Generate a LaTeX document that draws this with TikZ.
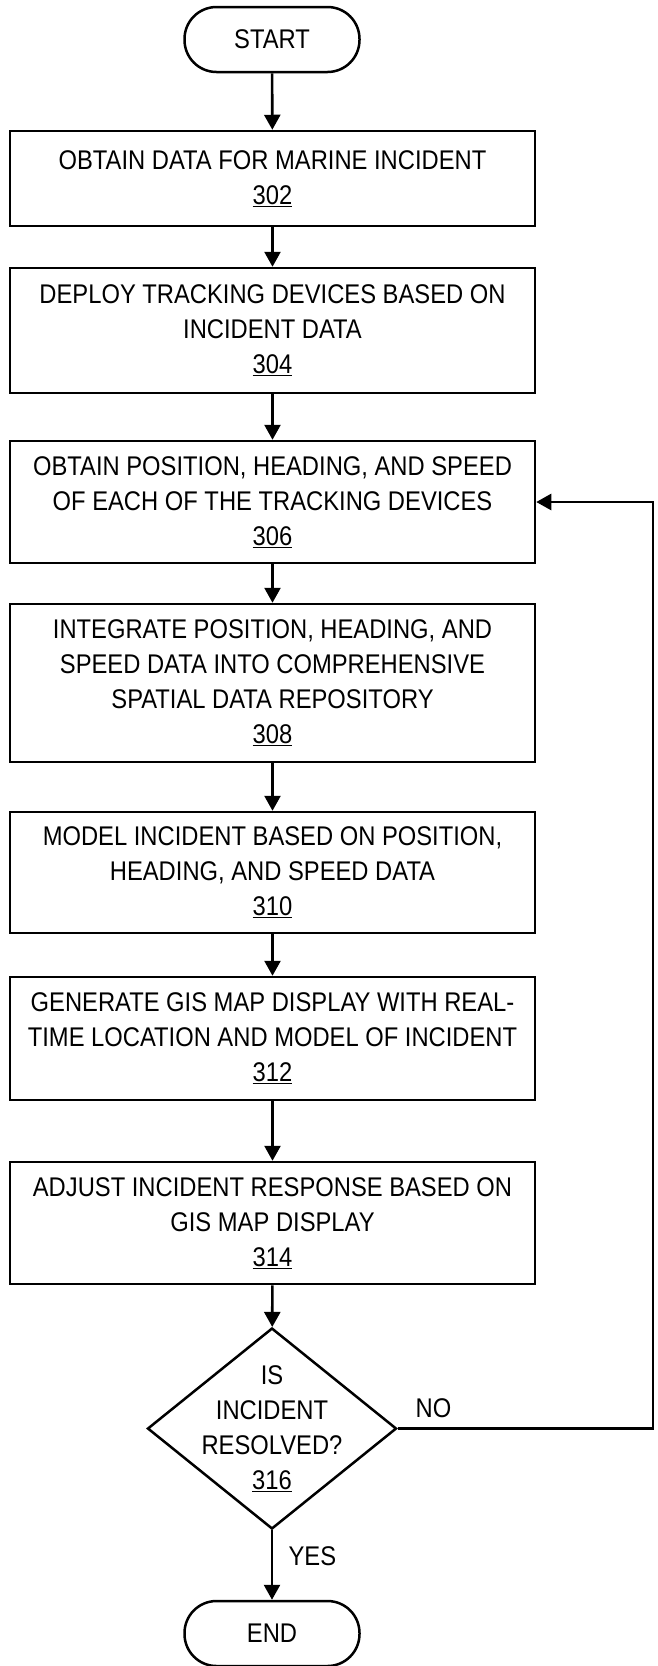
\documentclass[tikz,border=0pt]{standalone}
\usepackage{fontspec}
\setmainfont{Liberation Sans}[FakeStretch=0.88]
\usepackage{tikz}
\usetikzlibrary{arrows.meta,shapes.geometric,positioning}

\begin{document}
\begin{tikzpicture}[x=1pt,y=-1pt]
\tikzstyle{every node}=[font=\fontsize{27}{35}\selectfont]
\tikzstyle{stepbox}=[rectangle,draw,line width=2.5pt,minimum width=525pt,align=center,inner sep=0pt]
\tikzstyle{term}=[rectangle,draw,line width=2.5pt,rounded corners=32pt,minimum width=175pt,minimum height=65pt]
\tikzstyle{arr}=[line width=2.6pt,-{Triangle[length=15pt,width=16pt]}]

\useasboundingbox (0,0) rectangle (657,1666);

\node[term] (start) at (272,39.5) {START};
\node[stepbox,minimum height=95pt] (b302) at (272.5,178.5) {OBTAIN DATA FOR MARINE INCIDENT\\\underline{302}};
\node[stepbox,minimum height=125pt] (b304) at (272.5,330.5) {DEPLOY TRACKING DEVICES BASED ON\\INCIDENT DATA\\\underline{304}};
\node[stepbox,minimum height=122pt] (b306) at (272.5,502) {OBTAIN POSITION, HEADING, AND SPEED\\OF EACH OF THE TRACKING DEVICES\\\underline{306}};
\node[stepbox,minimum height=158pt] (b308) at (272.5,683) {INTEGRATE POSITION, HEADING, AND\\SPEED DATA INTO COMPREHENSIVE\\SPATIAL DATA REPOSITORY\\\underline{308}};
\node[stepbox,minimum height=121pt] (b310) at (272.5,872.5) {MODEL INCIDENT BASED ON POSITION,\\HEADING, AND SPEED DATA\\\underline{310}};
\node[stepbox,minimum height=123pt] (b312) at (272.5,1038.5) {GENERATE GIS MAP DISPLAY WITH REAL-\\TIME LOCATION AND MODEL OF INCIDENT\\\underline{312}};
\node[stepbox,minimum height=122pt] (b314) at (272.5,1223) {ADJUST INCIDENT RESPONSE BASED ON\\GIS MAP DISPLAY\\\underline{314}};
\node[diamond,draw,line width=2.5pt,minimum width=249pt,minimum height=201pt,inner sep=0pt] (d316) at (272,1428.5) {};
\node[align=center,inner sep=0pt] (q316) at (272,1428.5) {IS\\INCIDENT\\RESOLVED?\\\underline{316}};
\node[term] (end) at (272,1633.5) {END};
\coordinate (loopb) at (653,1428.5);
\coordinate (loopt) at (653,502);

% main flow
\draw[arr] (start) -- (b302);
\draw[arr] (b302) -- (b304);
\draw[arr] (b304) -- (b306);
\draw[arr] (b306) -- (b308);
\draw[arr] (b308) -- (b310);
\draw[arr] (b310) -- (b312);
\draw[arr] (b312) -- (b314);
\draw[arr] (b314) -- (d316);
\draw[arr] (d316) -- node[right=12pt,pos=0.38] (yes) {YES} (end);
% loop back
\draw[arr] (d316.east) -- node[above=6pt,pos=0.14] (no) {NO} (loopb) -- (loopt) -- (b306.east |- loopt);
\end{tikzpicture}
\end{document}
